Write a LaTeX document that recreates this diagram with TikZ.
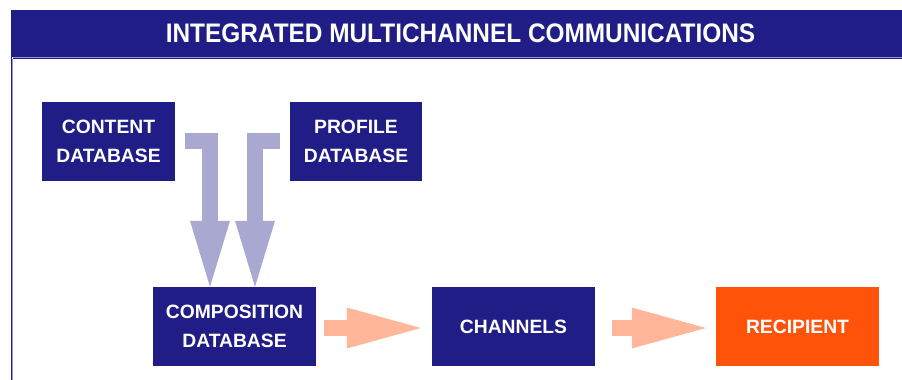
\documentclass[tikz,border=0pt]{standalone}
\usepackage{fontspec}
\setmainfont{Liberation Sans}
\usetikzlibrary{arrows.meta,calc}
\definecolor{navy}{HTML}{201E86}
\definecolor{lav}{HTML}{A8A8D1}
\definecolor{peach}{HTML}{FFB699}
\definecolor{orng}{HTML}{FF530A}
\definecolor{rule}{HTML}{9A9AD8}
\begin{document}
\begin{tikzpicture}[x=1pt,y=-1pt,
  box/.style={fill=navy, text=white, inner sep=0pt, minimum width=163pt, minimum height=79pt,
    align=center, font=\fontsize{19.3}{29.5}\selectfont\bfseries},
  dbbox/.style={box, minimum width=133pt},
  downarrow/.style={lav, line width=16pt, line join=miter,
    -{Triangle[length=66pt,width=40pt,line width=0pt]}},
  sidearrow/.style={peach, line width=16pt,
    -{Triangle[length=74pt,width=41pt,line width=0pt]}}]
\useasboundingbox (0,0) rectangle (902,380);
% header band
\fill[navy] (11,10) rectangle (902,56.6);
\node[text=white, anchor=base, inner sep=0pt, font=\fontsize{26.8}{30}\selectfont\bfseries]
  (title) at (460.5,42) {\scalebox{0.91}[1]{INTEGRATED MULTICHANNEL COMMUNICATIONS}};
% frame lines
\draw[rule, line width=1pt] (12.5,57.2) -- (902,57.2);
\draw[navy, line width=1.2pt] (12.5,58.4) -- (902,58.4);
\draw[navy, line width=1pt] (11.5,56.6) -- (11.5,380);
\draw[rule, line width=1pt] (12.6,59) -- (12.6,380);
% nodes
\node[dbbox] (content) at (108.5,141.5) {CONTENT\\DATABASE};
\node[dbbox, minimum width=132pt] (profile) at (356,141.5) {PROFILE\\DATABASE};
\coordinate (a1) at (185,141);
\coordinate (b1) at (280,141);
\node[box] (comp) at (234.5,326.5) {COMPOSITION\\DATABASE};
\node[box] (chan) at (513.5,326.5) {CHANNELS};
\node[box, fill=orng] (recip) at (797.5,326.5) {RECIPIENT};
% connectors
\draw[downarrow] (a1) -| ([xshift=-24.5pt]comp.north);
\draw[downarrow] (b1) -| ([xshift=20.5pt]comp.north);
\draw[sidearrow] ($(comp.east)+(8,1.5)$) -- ($(chan.west)+(-11,1.5)$);
\draw[sidearrow] ($(chan.east)+(17,1.5)$) -- ($(recip.west)+(-10,1.5)$);
\end{tikzpicture}
\end{document}
